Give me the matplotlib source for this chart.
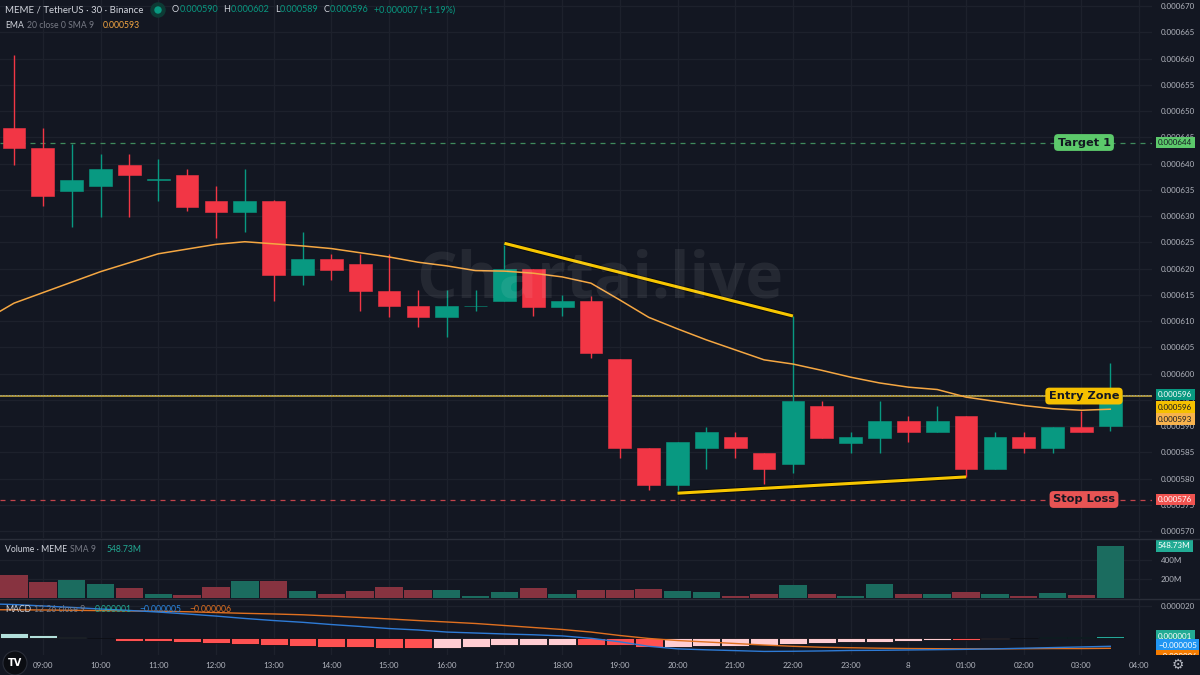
import numpy as np
import matplotlib
matplotlib.use('Agg')
import matplotlib.pyplot as plt
from matplotlib import transforms as mtrans
from matplotlib.patches import Ellipse
from matplotlib.lines import Line2D
import matplotlib.patheffects as pe

plt.rcParams['font.family'] = ['Lato', 'DejaVu Sans']

# ---------------- data ----------------
candle_times = ['08:30', '09:00', '09:30', '10:00', '10:30', '11:00', '11:30', '12:00', '12:30',
                '13:00', '13:30', '14:00', '14:30', '15:00', '15:30', '16:00', '16:30', '17:00',
                '17:30', '18:00', '18:30', '19:00', '19:30', '20:00', '20:30', '21:00', '21:30',
                '22:00', '22:30', '23:00', '23:30', '00:00', '00:30', '01:00', '01:30', '02:00',
                '02:30', '03:00', '03:30']
hour_labels = ['09:00', '10:00', '11:00', '12:00', '13:00', '14:00', '15:00', '16:00', '17:00',
               '18:00', '19:00', '20:00', '21:00', '22:00', '23:00', '8', '01:00', '02:00',
               '03:00', '04:00']

# prices in units of 1e-6
open_e6 = [646.8, 642.9, 634.8, 635.8, 639.8, 636.9, 637.9, 632.9, 630.8, 632.9, 618.8, 621.8,
           620.9, 615.8, 612.8, 610.8, 612.8, 613.8, 619.85, 612.7, 613.9, 602.8, 585.9, 578.8,
           585.9, 587.85, 584.8, 582.7, 593.9, 586.8, 587.8, 590.95, 588.9, 591.9, 581.8, 587.85,
           585.9, 589.9, 590.0]
high_e6 = [660.7, 646.8, 643.8, 641.8, 641.8, 640.9, 638.9, 635.8, 638.9, 633.0, 626.9, 622.8,
           622.8, 622.8, 615.9, 615.9, 615.9, 624.8, 619.9, 614.9, 614.8, 602.8, 585.9, 586.9,
           589.9, 588.9, 584.8, 610.95, 594.8, 588.9, 594.8, 591.9, 593.9, 591.9, 588.9, 588.9,
           589.9, 592.9, 602.0]
low_e6 = [639.8, 631.9, 628.0, 629.9, 629.9, 632.9, 631.0, 625.9, 626.9, 613.9, 616.9, 617.9,
          612.0, 610.7, 608.9, 606.9, 611.9, 613.8, 610.9, 610.9, 602.9, 584.0, 577.9, 577.2,
          581.9, 584.0, 578.95, 581.0, 587.8, 584.9, 584.9, 586.95, 588.9, 580.3, 581.8, 584.9,
          584.9, 588.9, 589.0]
close_e6 = [642.9, 633.8, 636.9, 638.9, 637.8, 636.95, 631.8, 630.8, 632.9, 618.8, 621.8, 619.8,
            615.8, 612.9, 610.8, 612.8, 612.85, 619.85, 612.7, 613.9, 603.85, 585.9, 578.8, 586.9,
            588.9, 585.9, 581.8, 594.8, 587.8, 587.85, 590.95, 588.9, 590.95, 581.8, 587.85, 585.9,
            589.9, 588.9, 596.0]
# EMA 20 (starts one bar before the first visible candle), units 1e-6
ema_e6 = [610.2, 613.4, 615.4, 617.4, 619.4, 621.1, 622.8, 623.7, 624.6, 625.1, 624.7, 624.3,
          623.8, 623.0, 622.2, 621.2, 620.5, 619.6, 619.5, 619.1, 618.4, 617.2, 614.0, 610.7,
          608.5, 606.4, 604.5, 602.6, 601.8, 600.6, 599.3, 598.2, 597.4, 596.95, 595.5, 594.7,
          593.9, 593.3, 593.0, 593.2]
# volume in millions
volume_m = [244, 166, 191, 145, 107, 47, 34, 121, 174, 174, 76, 37, 76, 114, 82, 82, 26, 68, 103,
            47, 89, 82, 97, 76, 61, 23, 37, 139, 37, 23, 145, 47, 47, 61, 37, 16, 55, 34, 548.73]
# MACD (units 1e-6), lines start one bar before first candle
macd_e6 = [21.6, 21.1, 20.2, 19.3, 18.3, 17.4, 16.4, 15.2, 13.9, 12.4, 11.1, 10.0, 8.6, 7.4, 6.1,
           5.2, 3.9, 3.3, 2.7, 2.2, 1.5, 0.0, -2.2, -5.0, -6.6, -7.2, -7.7, -8.2, -8.1, -7.9,
           -7.6, -7.5, -7.3, -7.1, -6.9, -6.6, -6.2, -5.8, -5.4, -5.0]
signal_e6 = [17.9, 17.8, 17.7, 17.5, 17.3, 17.1, 16.9, 16.6, 16.1, 15.6, 15.2, 14.7, 13.9, 13.0,
             12.1, 11.1, 10.2, 9.25, 8.0, 6.75, 5.5, 3.9, 1.75, -0.1, -1.4, -2.3, -3.25, -4.2,
             -5.0, -5.6, -5.9, -6.2, -6.4, -6.5, -6.6, -6.6, -6.5, -6.4, -6.4, -6.25]
hist_e6 = [3.3, 1.9, 1.1, 0.2, -1.4, -2.0, -2.2, -3.1, -3.3, -4.2, -5.0, -5.6, -5.7, -5.9, -6.1,
           -6.0, -5.4, -4.4, -4.2, -4.0, -4.3, -4.5, -5.6, -5.5, -5.0, -4.6, -4.3, -3.3, -2.9,
           -2.3, -2.1, -1.7, -1.1, -1.3, -0.6, 0.1, 0.6, 0.7, 1.3]

target_price = 0.000644
entry_price = 0.0005957
stop_price = 0.000576
upper_trend_bars = [17, 27]   # anchored on candle highs
lower_trend_bars = [23, 33]   # anchored on candle lows

# ---------------- style ----------------
W, H = 1200, 675
BG = '#131722'
GRID = '#1d212c'
TXT = '#b2b5be'
UP = '#089981'
DN = '#f23645'
EMA_C = '#f5a742'
BLUE = '#2e7bd6'
ORANGE = '#e07020'

o = np.array(open_e6) * 1e-6
h = np.array(high_e6) * 1e-6
l = np.array(low_e6) * 1e-6
c = np.array(close_e6) * 1e-6
ema = np.array(ema_e6) * 1e-6
vol = np.array(volume_m) * 1e6
macd = np.array(macd_e6) * 1e-6
sig = np.array(signal_e6) * 1e-6
hist = np.array(hist_e6) * 1e-6
x = np.arange(len(candle_times))
x_ind = np.arange(-1, len(candle_times))

fig = plt.figure(figsize=(12, 6.75), dpi=100, facecolor=BG)
renderer = fig.canvas.get_renderer()


def rect(x0, y0, x1, y1):
    return [x0 / W, 1 - y1 / H, (x1 - x0) / W, (y1 - y0) / H]


PLOT_R = 1152
axp = fig.add_axes(rect(0, 0, PLOT_R, 538))
axv = fig.add_axes(rect(0, 539, PLOT_R, 598), sharex=axp)
axm = fig.add_axes(rect(0, 599, PLOT_R, 655), sharex=axp)

hour_pos = [1 + 2 * k for k in range(len(hour_labels))]
step = 28.85
for ax in (axp, axv, axm):
    ax.set_facecolor(BG)
    for s in ax.spines.values():
        s.set_visible(False)
    ax.yaxis.tick_right()
    ax.tick_params(length=0, colors=TXT, labelsize=5.8, pad=6.5)
    ax.set_xticks(hour_pos)
    ax.grid(True, color=GRID, lw=1.0)
    ax.set_axisbelow(True)
axp.set_xlim(-14 / step, (PLOT_R - 14) / step)
axp.tick_params(labelbottom=False)
axv.tick_params(labelbottom=False)
axm.set_xticklabels(hour_labels)
axm.tick_params(axis='x', pad=5)

# ---- price pane ----
axp.set_ylim((670 - 532 / 5.25) * 1e-6, (670 + 6 / 5.25) * 1e-6)
axp.set_yticks(np.arange(570, 671, 5) * 1e-6)
axp.yaxis.set_major_formatter(matplotlib.ticker.FormatStrFormatter('%.6f'))

up = c >= o
cols = np.where(up, UP, DN)
axp.vlines(x, l, h, colors=cols, lw=1.0, zorder=3)
body = np.maximum(np.abs(c - o), 0.15e-6)
axp.bar(x, body, bottom=np.minimum(o, c), width=0.79, color=cols, edgecolor=cols,
        linewidth=0.4, zorder=4)
axp.plot(x_ind, ema, color=EMA_C, lw=1.1, zorder=5)

# horizontal levels
axp.axhline(target_price, color='#3f8a5c', lw=0.9, ls=(0, (4, 4)), zorder=2)
axp.axhline(stop_price, color='#c2444b', lw=0.9, ls=(0, (4, 4)), zorder=2)
axp.axhline(entry_price, color='#b39a3a', lw=1.3, zorder=2)
axp.axhline(c[-1], color='#9aa3a8', lw=0.7, ls=(0, (1, 2)), zorder=2)

# trend lines
shadow = [pe.withStroke(linewidth=3.6, foreground='#000000', alpha=0.55)]
axp.plot(upper_trend_bars, h[upper_trend_bars], color='#f7c600', lw=2.2, zorder=6,
         solid_capstyle='butt', path_effects=shadow)
axp.plot(lower_trend_bars, l[lower_trend_bars], color='#f7c600', lw=2.2, zorder=6,
         solid_capstyle='butt', path_effects=shadow)

bt = mtrans.blended_transform_factory(axp.transAxes, axp.transData)


def level_label(y, s, fc):
    axp.text(1084 / PLOT_R, y, s, transform=bt, ha='center', va='center', fontsize=8.2,
             fontweight='bold', family='DejaVu Sans', color='#131722', zorder=12,
             bbox=dict(boxstyle='round,pad=0.3,rounding_size=0.35', fc=fc, ec='none'))


level_label(target_price, 'Target 1', '#5cc96b')
level_label(entry_price, 'Entry Zone', '#f5c000')
level_label(stop_price, 'Stop Loss', '#e85454')


def axis_box(ax, y, s, fc, tc, dy_px=0, clip=None):
    tr = mtrans.blended_transform_factory(ax.transAxes, ax.transData) + \
        mtrans.ScaledTranslation(0, -dy_px / 100, fig.dpi_scale_trans)
    t = ax.text(1158 / PLOT_R, y, s, transform=tr, ha='left', va='center', fontsize=5.8,
                color=tc, zorder=15, clip_on=False,
                bbox=dict(boxstyle='square,pad=0.3', fc=fc, ec='none'))
    if clip is not None:
        t.set_clip_on(True)
        t.set_clip_box(clip)
    return t


fmt = lambda v: ('%.6f' % v).replace('-', '\u2212')
axis_box(axp, target_price, fmt(target_price), '#5cc96b', '#131722')
axis_box(axp, c[-1], fmt(c[-1]), UP, 'white')
axis_box(axp, entry_price, fmt(entry_price), '#f5c000', '#131722', dy_px=11)
axis_box(axp, ema[-1], fmt(ema[-1]), '#f7b24d', '#131722', dy_px=10)
axis_box(axp, stop_price, fmt(stop_price), '#ef5350', 'white')

# ---- volume pane ----
vcols = np.where(up, '#1b6c5f', '#873340')
axv.bar(x, vol, width=0.95, color=vcols, zorder=3)
axv.set_ylim(0, (598 - 539) / 0.095 * 1e6)
axv.set_yticks([200e6, 400e6])
axv.set_yticklabels(['200M', '400M'])
axis_box(axv, vol[-1], '548.73M', '#22ab94', 'white')

# ---- MACD pane ----
hc = []
for i, v in enumerate(hist):
    prev = hist[i - 1] if i > 0 else v + 1
    if v >= 0:
        hc.append('#26a69a' if v > prev else '#b2dfdb')
    else:
        hc.append('#ffcdd2' if v > prev else '#ff5252')
axm.bar(x, hist, width=0.97, color=hc, edgecolor='#0c0e14', linewidth=0.6, zorder=3)
axm.plot(x_ind, sig, color=ORANGE, lw=1.0, zorder=4)
axm.plot(x_ind, macd, color=BLUE, lw=1.0, zorder=5)
axm.set_ylim(-10.44e-6, 24.56e-6)
axm.set_yticks([20e-6])
axm.set_yticklabels(['0.000020'])
clipbox = mtrans.TransformedBbox(mtrans.Bbox.from_extents(1150, 20, 1200, 76),
                                 mtrans.IdentityTransform())
axis_box(axm, hist[-1], fmt(1e-6), '#22ab94', 'white')
axis_box(axm, macd[-1], fmt(-5e-6), '#2196f3', 'white', dy_px=-1)
axis_box(axm, macd[-1], fmt(-6e-6), '#f57c00', 'white', dy_px=10, clip=clipbox)

# ---- separators ----
for yy in (538.5, 598.5):
    fig.add_artist(Line2D([0, 1], [1 - yy / H, 1 - yy / H], color='#2a2e39', lw=1.0))


# ---- header texts ----
def ftext(xp, yp, s, color, size=6.4, **kw):
    return fig.text(xp / W, 1 - yp / H, s, color=color, fontsize=size, va='center', ha='left',
                    **kw)


def chain(xp, yp, parts, size=6.2):
    """parts: list of (text, color, gap_after_px)"""
    for s, col, gap in parts:
        t = ftext(xp, yp, s, col, size)
        bb = t.get_window_extent(renderer)
        xp = bb.x1 + gap


ftext(5, 10, 'MEME / TetherUS \u00b7 30 \u00b7 Binance', '#d1d4dc', 6.9)
fig.add_artist(Ellipse((158 / W, 1 - 10 / H), 14 / W, 14 / H, color='#0d3b35'))
fig.add_artist(Ellipse((158 / W, 1 - 10 / H), 6 / W, 6 / H, color=UP))
chain(172, 10, [('O', '#d1d4dc', 0.5), ('%.6f' % (open_e6[-1] * 1e-6), UP, 5),
                ('H', '#d1d4dc', 0.5), ('%.6f' % (high_e6[-1] * 1e-6), UP, 5),
                ('L', '#d1d4dc', 0.5), ('%.6f' % (low_e6[-1] * 1e-6), UP, 5),
                ('C', '#d1d4dc', 0.5), ('%.6f' % (close_e6[-1] * 1e-6), UP, 5),
                ('+0.000007 (+1.19%)', UP, 0)], size=6.5)
chain(5, 25, [('EMA', '#d1d4dc', 3), ('20 close 0 SMA 9', '#787b86', 9),
              ('%.6f' % ema[-1], EMA_C, 0)])
chain(5, 549, [('Volume \u00b7 MEME', '#d1d4dc', 3), ('SMA 9', '#787b86', 10),
               ('548.73M', '#22ab94', 0)])
chain(5, 609, [('MACD', '#d1d4dc', 3), ('12 26 close 9', '#787b86', 9),
               ('0.000001', '#22ab94', 8), ('\u22120.000005', '#2a86e0', 8),
               ('\u22120.000006', ORANGE, 0)])

# watermark
fig.text(600 / W, 1 - 281 / H, 'Chartai.live', fontsize=46, fontweight='bold', color='white',
         alpha=0.075, ha='center', va='center', family='Open Sans', zorder=20)

# TV logo and gear
fig.add_artist(Ellipse((15 / W, 1 - 663 / H), 24 / W, 24 / H, fc='#0b0d12', ec='#2a2e39', lw=0.8))
fig.text(15 / W, 1 - 663 / H, 'TV', color='white', fontsize=7, fontweight='bold',
         ha='center', va='center', family='DejaVu Sans')
fig.text(1178 / W, 1 - 665 / H, '\u2699', color=TXT, fontsize=10, ha='center', va='center',
         family='DejaVu Sans')

fig.savefig('out.png', dpi=100, facecolor=BG)
